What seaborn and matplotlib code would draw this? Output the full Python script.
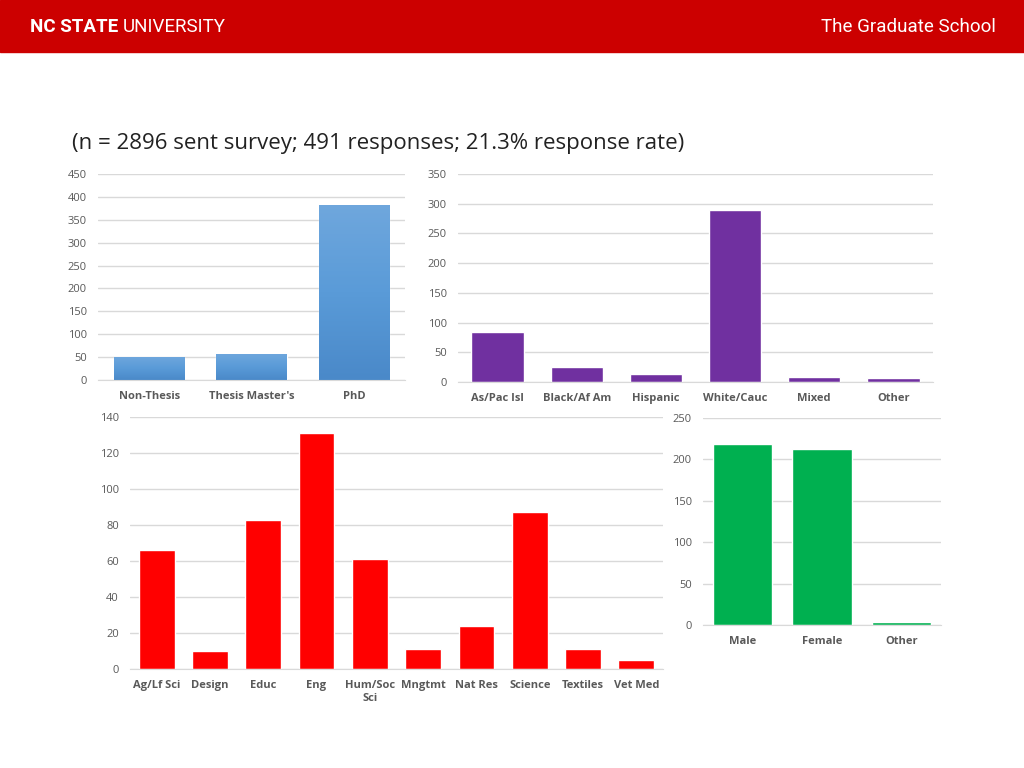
import matplotlib
matplotlib.use("Agg")
import matplotlib.pyplot as plt
import seaborn as sns
import pandas as pd
import numpy as np
from matplotlib.patches import Rectangle
from matplotlib.colors import LinearSegmentedColormap

# data
degree_labels = ["Non-Thesis", "Thesis Master's", "PhD"]
degree_counts = [51, 57, 383]

ethnic_labels = ["As/Pac Isl", "Black/Af Am", "Hispanic", "White/Cauc", "Mixed", "Other"]
ethnic_counts = [84, 26, 13, 289, 9, 6]

college_labels = ["Ag/Lf Sci", "Design", "Educ", "Eng", "Hum/Soc\nSci", "Mngtmt",
                  "Nat Res", "Science", "Textiles", "Vet Med"]
college_counts = [66, 10, 83, 131, 61, 11, 24, 87, 11, 5]

gender_labels = ["Male", "Female", "Other"]
gender_counts = [219, 212, 4]

subtitle = "(n = 2896 sent survey; 491 responses; 21.3% response rate)"

sns.set_style("white")
plt.rcParams["font.family"] = ["Open Sans", "DejaVu Sans"]

fig = plt.figure(figsize=(10.24, 7.68), dpi=100)

# header band
fig.patches.append(Rectangle((0, 1 - 52 / 768), 1, 52 / 768, transform=fig.transFigure,
                             color="#CC0000", zorder=0))
t1 = fig.text(30 / 1024, 1 - 27 / 768, "NC STATE", color="white", fontsize=13.5, fontweight="bold",
              family="Roboto", va="center", ha="left")
fig.canvas.draw()
bb = t1.get_window_extent()
fig.text((bb.x1 + 4) / 1024, 1 - 27 / 768, "UNIVERSITY", color="white", fontsize=13.5,
         family="Roboto", va="center", ha="left")
fig.text(996 / 1024, 1 - 27 / 768, "The Graduate School", color="white", fontsize=13.5,
         family="Roboto", va="center", ha="right")

fig.text(72 / 1024, 1 - 144 / 768, subtitle, fontsize=16, color="#222222", va="center", ha="left")


def bar_panel(rect, labels, counts, color, ymax, step, width):
    ax = fig.add_axes(rect)
    df = pd.DataFrame({"cat": labels, "n": counts})
    sns.barplot(data=df, x="cat", y="n", color=color, saturation=1, width=width, ax=ax)
    ax.set_ylim(0, ymax)
    ax.set_yticks(range(0, ymax + 1, step))
    ax.yaxis.grid(True, color="#D9D9D9", linewidth=1)
    ax.set_axisbelow(True)
    for s in ["top", "right", "left"]:
        ax.spines[s].set_visible(False)
    ax.spines["bottom"].set_color("#D9D9D9")
    ax.set_xlabel("")
    ax.set_ylabel("")
    ax.tick_params(axis="y", length=0, labelsize=8, labelcolor="#595959", pad=8)
    ax.tick_params(axis="x", length=0, labelsize=8, labelcolor="#595959", pad=8)
    for t in ax.get_xticklabels():
        t.set_fontweight("bold")
    ax.patch.set_alpha(0)
    return ax


ax1 = bar_panel([98 / 1024, 1 - 380 / 768, 307 / 1024, 206 / 768],
                degree_labels, degree_counts, "#5A9BD8", 450, 50, 0.69)
# the degree bars have a soft vertical gradient
blue_grad = LinearSegmentedColormap.from_list("bg", ["#4A89C9", "#5A9BD8", "#6FA7DD"])
for p in ax1.patches:
    x0, y0 = p.get_x(), p.get_y()
    w, h = p.get_width(), p.get_height()
    im = ax1.imshow(np.linspace(0, 1, 100).reshape(-1, 1), cmap=blue_grad, origin="lower",
                    extent=[x0, x0 + w, y0, y0 + h], aspect="auto", zorder=p.get_zorder() + 0.1)
    im.set_clip_path(p)
ax1.set_xlim(-0.5, 2.5)
ax1.set_ylim(0, 450)

bar_panel([458 / 1024, 1 - 382 / 768, 475 / 1024, 208 / 768],
          ethnic_labels, ethnic_counts, "#7030A0", 350, 50, 0.66)
bar_panel([130 / 1024, 1 - 669 / 768, 533 / 1024, 252 / 768],
          college_labels, college_counts, "#FF0000", 140, 20, 0.67)
bar_panel([703 / 1024, 1 - 625 / 768, 238 / 1024, 207 / 768],
          gender_labels, gender_counts, "#00B050", 250, 50, 0.75)

fig.savefig("out.png", dpi=100)
